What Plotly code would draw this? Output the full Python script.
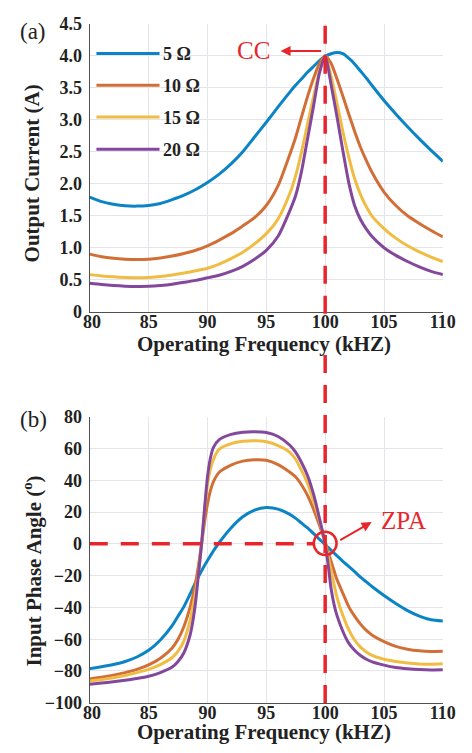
import plotly.graph_objects as go

W, H = 472, 753

# ---- (a) output current vs operating frequency ----
freq_a = [80, 81, 82, 83, 84, 85, 86, 87, 88, 89, 90, 91, 92, 93, 94, 95, 96, 97,
          97.5, 98, 98.5, 99, 99.5, 100, 100.5, 101, 101.5, 102, 102.5, 103, 103.5,
          104, 105, 106, 107, 108, 109, 110]
current_5 = [1.79, 1.72, 1.68, 1.655, 1.65, 1.66, 1.69, 1.75, 1.82, 1.91, 2.02, 2.15,
             2.31, 2.50, 2.73, 2.96, 3.20, 3.43, 3.54, 3.64, 3.74, 3.83, 3.92, 3.99,
             4.03, 4.05, 4.03, 3.96, 3.87, 3.76, 3.65, 3.53, 3.30, 3.09, 2.89, 2.70,
             2.52, 2.35]
current_10 = [0.90, 0.86, 0.835, 0.82, 0.815, 0.82, 0.84, 0.87, 0.91, 0.96, 1.03, 1.12,
              1.22, 1.34, 1.47, 1.66, 1.97, 2.46, 2.73, 3.05, 3.36, 3.64, 3.87, 4.00,
              3.88, 3.64, 3.37, 3.09, 2.82, 2.57, 2.36, 2.17, 1.87, 1.66, 1.50, 1.38,
              1.27, 1.17]
current_15 = [0.58, 0.56, 0.545, 0.535, 0.53, 0.535, 0.55, 0.575, 0.605, 0.64, 0.68,
              0.745, 0.83, 0.93, 1.06, 1.22, 1.45, 1.85, 2.13, 2.50, 2.93, 3.35, 3.74,
              4.00, 3.68, 3.26, 2.82, 2.42, 2.08, 1.83, 1.64, 1.49, 1.30, 1.15, 1.03,
              0.935, 0.855, 0.785]
current_20 = [0.445, 0.425, 0.41, 0.40, 0.395, 0.397, 0.41, 0.43, 0.46, 0.49, 0.53,
              0.57, 0.63, 0.71, 0.82, 0.96, 1.18, 1.58, 1.82, 2.20, 2.70, 3.20, 3.72,
              4.00, 3.55, 3.05, 2.52, 2.02, 1.66, 1.44, 1.29, 1.17, 1.00, 0.88, 0.785,
              0.70, 0.63, 0.58]

# ---- (b) input phase angle vs operating frequency ----
freq_b = [80, 81, 82, 83, 84, 85, 86, 87, 87.5, 88, 88.5, 88.75, 89, 89.25, 89.5,
          89.75, 90, 90.25, 90.5, 91, 92, 93, 94, 95, 96, 97, 97.5, 98, 98.5, 99,
          99.5, 100, 100.25, 100.5, 100.75, 101, 101.5, 102, 102.5, 103, 103.5, 104,
          105, 106, 107, 108, 109, 110]
phase_5 = [-78.5, -77.3, -75.9, -74.0, -71.2, -67.0, -60.5, -51.5, -45.5, -39.5,
           -32.0, -28.0, -24.0, -20.5, -17.0, -13.7, -10.5, -7.5, -4.5, 0.8, 10.0,
           17.0, 21.2, 22.8, 21.8, 18.5, 16.0, 13.0, 10.0, 6.5, 3.0, -0.5, -2.3, -4.0,
           -5.8, -7.5, -11.0, -14.2, -17.5, -21.0, -24.0, -27.0, -32.5, -37.5, -42.0,
           -45.5, -47.8, -48.6]
phase_10 = [-85.0, -83.9, -82.6, -81.0, -79.0, -76.2, -72.0, -65.5, -60.0, -52.0,
            -40.5, -33.0, -24.0, -13.0, 0.0, 13.5, 25.0, 33.5, 39.0, 45.0, 49.5,
            52.0, 52.8, 52.5, 49.8, 45.0, 42.0, 37.0, 30.5, 22.0, 12.0, 1.0, -5.0,
            -11.0, -16.8, -22.5, -31.0, -39.5, -45.5, -50.5, -54.5, -57.5, -61.5,
            -64.5, -66.3, -67.3, -67.7, -67.6]
phase_15 = [-86.3, -85.3, -84.2, -82.8, -81.0, -79.0, -76.0, -71.5, -67.5, -61.0,
            -49.0, -40.0, -30.0, -17.0, 0.0, 21.0, 37.0, 47.0, 53.0, 59.5, 63.0,
            64.5, 64.8, 64.2, 61.8, 57.5, 53.0, 46.0, 38.0, 27.0, 15.0, 0.0, -8.0,
            -17.0, -25.5, -33.5, -45.0, -54.0, -60.5, -65.0, -68.0, -70.2, -72.6,
            -74.0, -75.0, -75.6, -75.8, -75.5]
phase_20 = [-88.4, -87.6, -86.8, -85.8, -84.7, -83.3, -81.0, -77.5, -74.0, -68.5,
            -58.0, -49.0, -36.0, -18.0, 0.0, 22.0, 42.0, 54.0, 60.5, 65.5, 68.8,
            70.2, 70.5, 70.0, 67.5, 62.0, 57.5, 51.0, 43.0, 31.5, 16.5, 0.0, -13.0,
            -28.0, -38.0, -45.0, -55.0, -62.5, -67.0, -70.3, -72.6, -74.3, -76.3,
            -77.8, -78.6, -79.1, -79.3, -79.2]

loads = ["5 Ω", "10 Ω", "15 Ω", "20 Ω"]
colors = ["#0b84c6", "#d16f36", "#f0bc43", "#83489b"]
currents = [current_5, current_10, current_15, current_20]
phases = [phase_5, phase_10, phase_15, phase_20]

x_ticks = [80, 85, 90, 95, 100, 105, 110]
x_ticktext = ["\u00a080", "85", "90", "95", "100", "105", "110"]
ya_ticks = [0, 0.5, 1.0, 1.5, 2.0, 2.5, 3.0, 3.5, 4.0, 4.5]
ya_ticktext = ["0", "0.5", "1.0", "1.5", "2.0", "2.5", "3.0", "3.5", "4.0", "4.5"]
yb_ticks = [-100, -80, -60, -40, -20, 0, 20, 40, 60, 80]

RED = "#e8252b"
SERIF = "Liberation Serif, Times New Roman, serif"
GRID = "#e4e4ea"
AXIS = "#505050"


def fx(p):
    return p / W


def fy(p):
    return 1 - p / H


fig = go.Figure()

for name, c, ys in zip(loads, colors, currents):
    fig.add_trace(go.Scatter(x=freq_a, y=ys, mode="lines", name=name,
                             line=dict(color=c, width=3, shape="spline", smoothing=0.6),
                             xaxis="x", yaxis="y", showlegend=False))

for name, c, ys in zip(loads, colors, phases):
    fig.add_trace(go.Scatter(x=freq_b, y=ys, mode="lines", name=name,
                             line=dict(color=c, width=3, shape="spline", smoothing=0.6),
                             xaxis="x2", yaxis="y2", showlegend=False))

tickfont = dict(family=SERIF, size=18, color="#222", weight="bold")
common_x = dict(range=[80, 110], tickvals=x_ticks, ticktext=x_ticktext,
                showgrid=True, gridcolor=GRID, gridwidth=1, showline=True,
                linecolor=AXIS, linewidth=1.2, ticks="", tickfont=tickfont,
                zeroline=False, fixedrange=True, ticklabelstandoff=-6)
common_y = dict(showgrid=True, gridcolor=GRID, gridwidth=1, showline=True,
                linecolor=AXIS, linewidth=1.2, ticks="", tickfont=tickfont,
                zeroline=False, ticklabelstandoff=3, fixedrange=True)

fig.update_layout(
    width=W, height=H,
    margin=dict(l=0, r=0, t=0, b=0),
    paper_bgcolor="white", plot_bgcolor="white",
    showlegend=False,
    xaxis=dict(domain=[fx(83), fx(455)], anchor="y", **common_x),
    yaxis=dict(domain=[fy(310), fy(14)], anchor="x", range=[0, 4.5],
               tickvals=ya_ticks, ticktext=ya_ticktext, **common_y),
    xaxis2=dict(domain=[fx(83), fx(455)], anchor="y2", **common_x),
    yaxis2=dict(domain=[fy(711.7), fy(417.7)], anchor="x2", range=[-100, 80],
                tickvals=yb_ticks, **common_y),
)

shapes = []
# vertical resonance marker at 100 kHz, crossing both panels
shapes.append(dict(type="line", xref="x", yref="paper", x0=100, x1=100,
                   y0=fy(312), y1=fy(12), line=dict(color=RED, width=3.5, dash="18px,12px")))
shapes.append(dict(type="line", xref="x2", yref="paper", x0=100, x1=100,
                   y0=fy(712), y1=fy(352), line=dict(color=RED, width=3.5, dash="18px,12px")))
# zero-phase reference line
shapes.append(dict(type="line", xref="x2", yref="y2", x0=80, x1=99.0, y0=0, y1=0,
                   line=dict(color=RED, width=3.5, dash="18px,13px")))
# ZPA marker circle
shapes.append(dict(type="circle", xref="x2", yref="y2", x0=99.03, x1=100.97,
                   y0=-7.0, y1=7.6, line=dict(color=RED, width=2.5)))

# legend samples
legend_y = [44.7, 77.3, 110.0, 143.0]
for c, ly in zip(colors, legend_y):
    shapes.append(dict(type="line", xref="paper", yref="paper", x0=fx(90), x1=fx(156.5),
                       y0=fy(ly), y1=fy(ly), line=dict(color=c, width=3)))

annotations = []
for name, ly in zip(loads, legend_y):
    annotations.append(dict(text=name, xref="paper", yref="paper", x=fx(158), y=fy(ly + 1),
                            xanchor="left", yanchor="middle", showarrow=False,
                            font=dict(family=SERIF, size=18, color="#222", weight="bold")))

label_font = dict(family=SERIF, size=21, color="#222", weight="bold")
annotations += [
    dict(text="(a)", xref="paper", yref="paper", x=fx(23), y=fy(22), showarrow=False,
         xanchor="center", yanchor="middle", font=dict(family=SERIF, size=23, color="#222")),
    dict(text="(b)", xref="paper", yref="paper", x=fx(24), y=fy(421), showarrow=False,
         xanchor="center", yanchor="middle", font=dict(family=SERIF, size=23, color="#222")),
    dict(text="Output Current (A)", xref="paper", yref="paper", x=fx(22), y=fy(168),
         textangle=-90, showarrow=False, xanchor="center", yanchor="middle", font=label_font),
    dict(text="Input Phase Angle (<sup>o</sup>)", xref="paper", yref="paper", x=fx(23),
         y=fy(576), textangle=-90, showarrow=False, xanchor="center", yanchor="middle",
         font=label_font),
    dict(text="Operating Frequency (kHZ)", xref="paper", yref="paper", x=fx(267), y=fy(343),
         showarrow=False, xanchor="center", yanchor="middle", font=label_font),
    dict(text="Operating Frequency (kHZ)", xref="paper", yref="paper", x=fx(267), y=fy(742),
         showarrow=False, xanchor="center", yanchor="middle", font=label_font),
    # CC label and arrow
    dict(text="CC", xref="paper", yref="paper", x=fx(255), y=fy(42), showarrow=False,
         xanchor="center", yanchor="middle", font=dict(family=SERIF, size=25, color=RED)),
    dict(text="", xref="paper", yref="paper", x=fx(284), y=fy(42), ax=42, ay=0,
         showarrow=True, arrowhead=2, arrowsize=1, arrowwidth=2, arrowcolor=RED),
    # ZPA label and arrow
    dict(text="ZPA", xref="paper", yref="paper", x=fx(414), y=fy(524), showarrow=False,
         xanchor="center", yanchor="middle", font=dict(family=SERIF, size=25, color=RED)),
    dict(text="", xref="paper", yref="paper", x=fx(380), y=fy(526), ax=-33, ay=19,
         showarrow=True, arrowhead=2, arrowsize=1, arrowwidth=2, arrowcolor=RED),
]

fig.update_layout(shapes=shapes, annotations=annotations)
fig.write_html("out.html")
